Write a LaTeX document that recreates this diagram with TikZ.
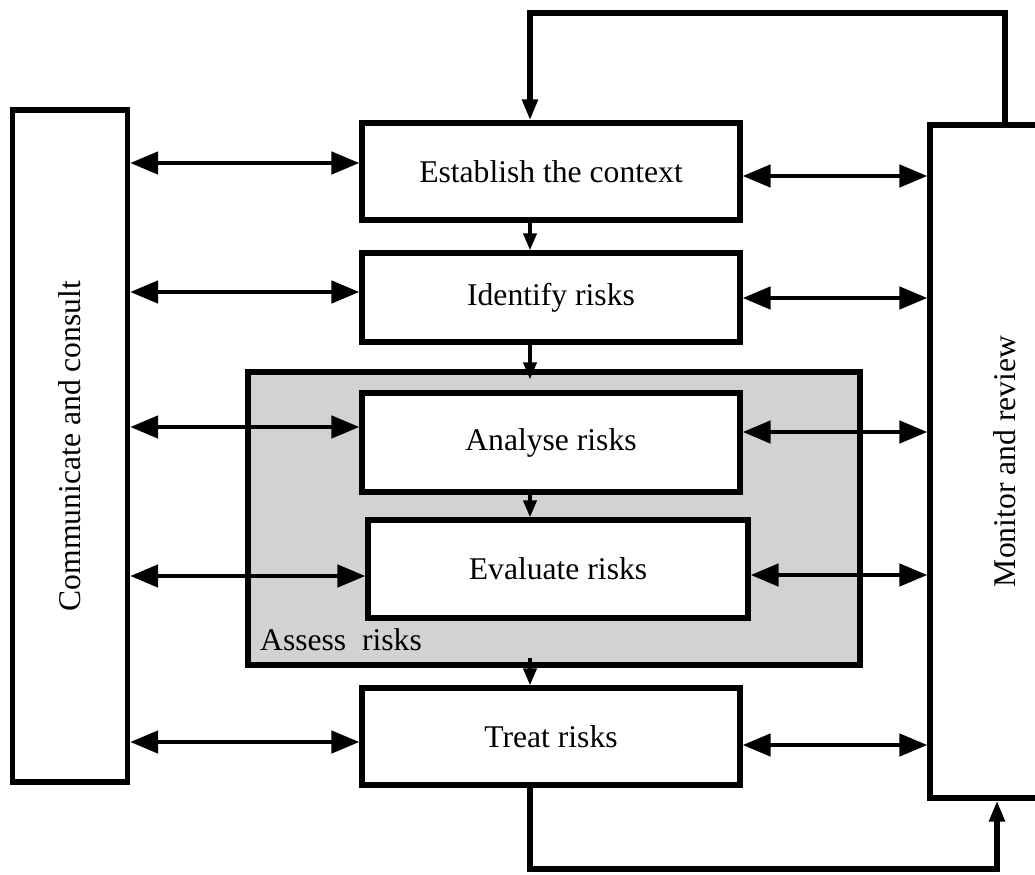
\documentclass[tikz,border=0pt]{standalone}
\usepackage{fontspec}
\setmainfont{Liberation Serif}
\usetikzlibrary{arrows.meta,calc}
\begin{document}
\begin{tikzpicture}[x=0.02cm,y=-0.02cm,
      box/.style={draw,line width=3pt,fill=white,inner sep=0pt,
        font=\fontsize{18}{21}\selectfont},
      assessbox/.style={draw,line width=3pt,fill=gray!35,inner sep=0pt},
      link/.style={line width=2.6pt,
        {Triangle[length=0.56cm,width=0.44cm]}-{Triangle[length=0.56cm,width=0.44cm]}},
      flow/.style={line width=2.2pt,-{Triangle[length=0.34cm,width=0.26cm]}},
      loopline/.style={line width=3pt,-{Triangle[length=0.42cm,width=0.3cm]}}
      ]
      \useasboundingbox (0,0) rectangle (1035,875);
      \coordinate (spine) at (530,0);
      
      \node[box,minimum width=2.3cm,minimum height=13.44cm] (comm) at (70,446) {\rotatebox{90}{Communicate and consult}};
      \node[box,minimum width=3cm,minimum height=13.46cm] (mon) at (1005,461.5) {\rotatebox{90}{Monitor and review}};
      
      \node[assessbox,minimum width=12.24cm,minimum height=5.86cm] (assess) at (554,518.5) {};
      \node[anchor=west,font=\fontsize{18}{21}\selectfont] (assesslbl) at (254,640) {Assess\ \ risks};
      
      \node[box,minimum width=7.56cm,minimum height=1.94cm] (estab) at (551,171.5) {Establish the context};
      \node[box,minimum width=7.56cm,minimum height=1.78cm] (ident) at (551,297.5) {Identify risks};
      \node[box,minimum width=7.56cm,minimum height=1.98cm] (anal) at (551,442.5) {Analyse risks};
      \node[box,minimum width=7.6cm,minimum height=1.96cm] (evalu) at (558,569) {Evaluate risks};
      \node[box,minimum width=7.56cm,minimum height=1.94cm] (treat) at (551,736.5) {Treat risks};
      
      % left side
      \draw[link] (comm.east |- 0,163) -- (estab.west |- 0,163);
      \draw[link] (comm.east |- 0,292) -- (ident.west |- 0,292);
      \draw[link] (comm.east |- 0,427) -- (anal.west |- 0,427);
      \draw[link] (comm.east |- 0,576) -- (evalu.west |- 0,576);
      \draw[link] (comm.east |- 0,742) -- (treat.west |- 0,742);
      
      % right side
      \draw[link] (estab.east |- 0,176) -- (mon.west |- 0,176);
      \draw[link] (ident.east |- 0,298) -- (mon.west |- 0,298);
      \draw[link] (anal.east |- 0,432) -- (mon.west |- 0,432);
      \draw[link] (evalu.east |- 0,575) -- (mon.west |- 0,575);
      \draw[link] (treat.east |- 0,745) -- (mon.west |- 0,745);
      
      % down the middle
      \draw[flow] (spine |- estab.south) -- (spine |- ident.north);
      \draw[flow] (spine |- ident.south) -- ($(spine |- assess.north)+(0,10)$);
      \draw[flow] (spine |- anal.south) -- (spine |- evalu.north);
      \draw[flow] ($(spine |- assess.south)+(0,-10)$) -- (spine |- treat.north);
      
      % loops
      \draw[loopline] (mon.north) |- (spine |- 0,13) -- (spine |- estab.north);
      \draw[loopline] (spine |- treat.south) |- (997,869) -- (997,0 |- mon.south);
\end{tikzpicture}
\end{document}
